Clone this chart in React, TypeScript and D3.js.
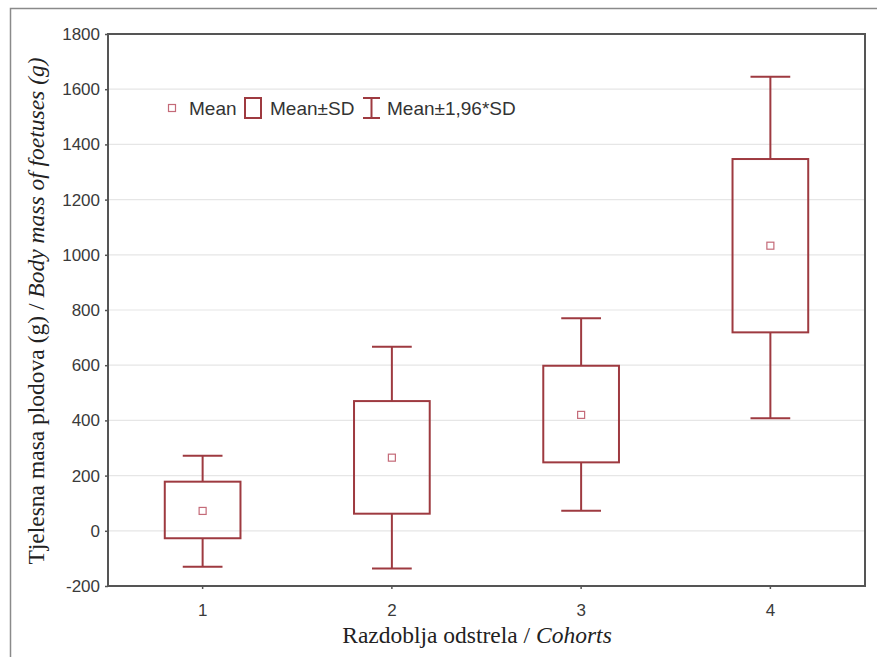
import React, { useEffect, useRef } from "react";
import * as d3 from "d3";

// values
const cohorts = ["1", "2", "3", "4"];
const means = [72, 265, 420, 1033];
const sdLow = [-27, 62, 248, 719];
const sdHigh = [178, 470, 598, 1347];
const ciLow = [-130, -137, 73, 408];
const ciHigh = [272, 667, 770, 1645];
const yTicks = [-200, 0, 200, 400, 600, 800, 1000, 1200, 1400, 1600, 1800];

const W = 877, H = 657;
const margin = { top: 34, right: 12, bottom: 71, left: 108 };
const boxColor = "#9e3a40";
const meanColor = "#c46a78";
const axisColor = "#555";
const sans = "'Liberation Sans', Arial, sans-serif";
const serif = "'Liberation Serif', 'Times New Roman', serif";

const App = () => {
    const ref = useRef<SVGSVGElement>(null);

    useEffect(() => {
        const svg = d3.select(ref.current);
        svg.selectAll("*").remove();

        const x0 = margin.left, x1 = W - margin.right;
        const y0 = margin.top, y1 = H - margin.bottom;

        const x = d3.scaleBand().domain(cohorts).range([x0, x1]).padding(0);
        const y = d3.scaleLinear().domain([-200, 1800]).range([y1, y0]);

        // outer frame
        svg.append("path")
            .attr("d", `M10.5,${H + 5} V8.5 H${W + 5}`)
            .attr("fill", "none")
            .attr("stroke", "#8a8a8a")
            .attr("stroke-width", 1.5);

        // gridlines
        svg.append("g")
            .selectAll("line")
            .data(yTicks.slice(1, -1))
            .join("line")
            .attr("x1", x0).attr("x2", x1)
            .attr("y1", (d) => y(d)).attr("y2", (d) => y(d))
            .attr("stroke", "#e6e6e6")
            .attr("stroke-width", 1.2);

        // plot frame
        svg.append("rect")
            .attr("x", x0).attr("y", y0)
            .attr("width", x1 - x0).attr("height", y1 - y0)
            .attr("fill", "none")
            .attr("stroke", axisColor)
            .attr("stroke-width", 2);

        // y axis
        const yAxis = svg.append("g")
            .attr("transform", `translate(${x0},0)`)
            .call(d3.axisLeft(y).tickValues(yTicks).tickSize(3).tickPadding(5).tickFormat((d) => String(d)));
        yAxis.select(".domain").remove();
        yAxis.selectAll("line").attr("stroke", axisColor).attr("stroke-width", 1.5);
        yAxis.selectAll("text")
            .attr("font-family", sans).attr("font-size", 17).attr("fill", "#3a3a3a");

        // x axis
        const xAxis = svg.append("g")
            .attr("transform", `translate(0,${y1})`)
            .call(d3.axisBottom(x).tickSize(3).tickPadding(15));
        xAxis.select(".domain").remove();
        xAxis.selectAll("line").attr("stroke", axisColor).attr("stroke-width", 1.5);
        xAxis.selectAll("text")
            .attr("font-family", sans).attr("font-size", 17).attr("fill", "#3a3a3a");

        // boxes
        const bw = x.bandwidth();
        const boxW = bw * 0.4;
        const capW = bw * 0.21;
        const g = svg.append("g");
        cohorts.forEach((c, i) => {
            const cx = x(c)! + bw / 2;
            const grp = g.append("g").attr("stroke", boxColor).attr("stroke-width", 2).attr("fill", "none");
            grp.append("line").attr("x1", cx).attr("x2", cx).attr("y1", y(ciHigh[i])).attr("y2", y(sdHigh[i]));
            grp.append("line").attr("x1", cx).attr("x2", cx).attr("y1", y(sdLow[i])).attr("y2", y(ciLow[i]));
            grp.append("line").attr("x1", cx - capW / 2).attr("x2", cx + capW / 2).attr("y1", y(ciHigh[i])).attr("y2", y(ciHigh[i]));
            grp.append("line").attr("x1", cx - capW / 2).attr("x2", cx + capW / 2).attr("y1", y(ciLow[i])).attr("y2", y(ciLow[i]));
            grp.append("rect")
                .attr("x", cx - boxW / 2).attr("y", y(sdHigh[i]))
                .attr("width", boxW).attr("height", y(sdLow[i]) - y(sdHigh[i]));
            g.append("rect")
                .attr("x", cx - 3.5).attr("y", y(means[i]) - 3.5)
                .attr("width", 7).attr("height", 7)
                .attr("fill", "none").attr("stroke", meanColor).attr("stroke-width", 1.2);
        });

        // legend
        const ly = 108;
        const leg = svg.append("g");
        leg.append("rect").attr("x", 168.5).attr("y", ly - 3.5).attr("width", 7).attr("height", 7)
            .attr("fill", "none").attr("stroke", meanColor).attr("stroke-width", 1.2);
        leg.append("text").attr("x", 189).attr("y", ly + 7).text("Mean");
        leg.append("rect").attr("x", 245).attr("y", ly - 10).attr("width", 16).attr("height", 20)
            .attr("fill", "none").attr("stroke", boxColor).attr("stroke-width", 2);
        leg.append("text").attr("x", 270).attr("y", ly + 7).text("Mean±SD");
        const wg = leg.append("g").attr("stroke", boxColor).attr("stroke-width", 2);
        wg.append("line").attr("x1", 371.5).attr("x2", 371.5).attr("y1", ly - 10).attr("y2", ly + 10);
        wg.append("line").attr("x1", 363).attr("x2", 380).attr("y1", ly - 10).attr("y2", ly - 10);
        wg.append("line").attr("x1", 363).attr("x2", 380).attr("y1", ly + 10).attr("y2", ly + 10);
        leg.append("text").attr("x", 387).attr("y", ly + 7).text("Mean±1,96*SD");
        leg.selectAll("text").attr("font-family", sans).attr("font-size", 19).attr("fill", "#333");

        // axis titles
        const xt = svg.append("text")
            .attr("x", 477).attr("y", 643)
            .attr("text-anchor", "middle")
            .attr("font-family", serif).attr("font-size", 23.5).attr("fill", "#222");
        xt.append("tspan").text("Razdoblja odstrela / ");
        xt.append("tspan").attr("font-style", "italic").text("Cohorts");

        const yt = svg.append("text")
            .attr("transform", `translate(44,311) rotate(-90)`)
            .attr("text-anchor", "middle")
            .attr("font-family", serif).attr("font-size", 23.5).attr("fill", "#222");
        yt.append("tspan").text("Tjelesna masa plodova (g) / ");
        yt.append("tspan").attr("font-style", "italic").text("Body mass of foetuses (g)");
    }, []);

    return (
        <svg ref={ref} width={W} height={H}
            style={{ position: "absolute", left: 0, top: 0, background: "#fff" }} />
    );
};

export default App;
